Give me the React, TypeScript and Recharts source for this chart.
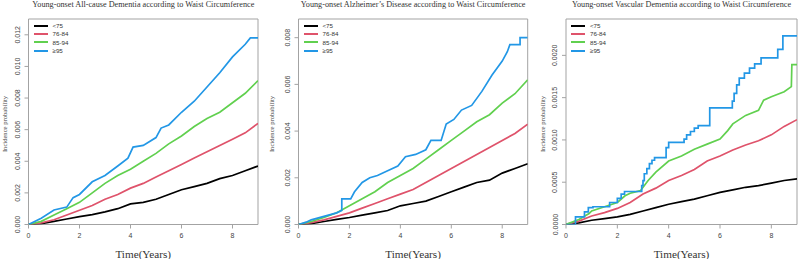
import React from "react";
import { LineChart, Line, XAxis, YAxis, ReferenceArea, Legend } from "recharts";

const years = [0, 0.5, 1, 1.5, 2, 2.5, 3, 3.5, 4, 4.5, 5, 5.5, 6, 6.5, 7, 7.5, 8, 8.5, 9];
const groupNames = ["<75", "76-84", "85-94", "≥95"];
const groupColors = ["#000000", "#DF536B", "#61D04F", "#2297E6"];
const xTicks = [0, 2, 4, 6, 8];

// all-cause dementia
const allLt75 = [0, 0.00005, 0.0002, 0.00035, 0.0005, 0.00062, 0.0008, 0.001, 0.0013, 0.0014, 0.0016, 0.0019, 0.0022, 0.0024, 0.0026, 0.0029, 0.0031, 0.0034, 0.0037];
const all76 = [0, 0.0001, 0.0003, 0.0006, 0.0009, 0.0012, 0.0016, 0.0019, 0.0023, 0.0026, 0.003, 0.0034, 0.0038, 0.0042, 0.0046, 0.005, 0.0054, 0.0058, 0.0064];
const all85 = [0, 0.0002, 0.0006, 0.001, 0.0014, 0.002, 0.0026, 0.0031, 0.0035, 0.004, 0.0045, 0.0051, 0.0056, 0.0062, 0.0067, 0.0071, 0.0077, 0.0083, 0.0091];
const all95Years = [0, 0.5, 1, 1.5, 1.75, 2, 2.5, 3, 3.5, 3.9, 4.1, 4.5, 5, 5.2, 5.5, 6, 6.5, 7, 7.5, 8, 8.5, 8.7, 9];
const all95 = [0, 0.0004, 0.00092, 0.0011, 0.0017, 0.0019, 0.0027, 0.0031, 0.0037, 0.0042, 0.0049, 0.005, 0.0055, 0.0061, 0.0063, 0.0071, 0.0078, 0.0087, 0.0096, 0.0106, 0.0114, 0.0118, 0.0118];
const allTicks = [0, 0.002, 0.004, 0.006, 0.008, 0.01, 0.012];

// alzheimer's disease
const adLt75 = [0, 0.00004, 0.00013, 0.00022, 0.0003, 0.0004, 0.0005, 0.0006, 0.0008, 0.0009, 0.001, 0.0012, 0.0014, 0.0016, 0.0018, 0.0019, 0.0022, 0.0024, 0.0026];
const ad76 = [0, 0.00008, 0.0002, 0.00035, 0.0005, 0.0007, 0.0009, 0.0011, 0.0013, 0.0015, 0.0018, 0.0021, 0.0024, 0.0027, 0.003, 0.0033, 0.0036, 0.0039, 0.0043];
const ad85 = [0, 0.00013, 0.0003, 0.0005, 0.0008, 0.0011, 0.0014, 0.0018, 0.0021, 0.0024, 0.0028, 0.0032, 0.0036, 0.004, 0.0044, 0.0047, 0.0052, 0.0056, 0.0062];
const ad95Years = [0, 0.3, 0.5, 1, 1.5, 1.7, 1.7, 2.05, 2.2, 2.5, 2.8, 3.1, 3.5, 3.9, 4.2, 4.6, 5.0, 5.2, 5.6, 5.8, 6.1, 6.4, 6.8, 7.2, 7.6, 8.0, 8.2, 8.3, 8.7, 8.7, 9];
const ad95 = [0, 0.0001, 0.0002, 0.00035, 0.0005, 0.0006, 0.0011, 0.0011, 0.0014, 0.0018, 0.002, 0.0021, 0.0023, 0.0025, 0.0029, 0.003, 0.0032, 0.0036, 0.0036, 0.0043, 0.0045, 0.0049, 0.0051, 0.0057, 0.0064, 0.007, 0.0074, 0.0077, 0.0077, 0.008, 0.008];
const adTicks = [0, 0.002, 0.004, 0.006, 0.008];

// vascular dementia
const vdLt75 = [0, 0.00002, 0.00005, 0.00007, 0.00009, 0.00012, 0.00016, 0.0002, 0.00024, 0.00027, 0.0003, 0.00034, 0.00038, 0.00041, 0.00044, 0.00046, 0.00049, 0.00052, 0.00054];
const vd76 = [0, 0.00004, 0.0001, 0.00014, 0.00019, 0.00026, 0.00036, 0.00043, 0.00052, 0.00058, 0.00065, 0.00075, 0.00081, 0.00088, 0.00094, 0.00099, 0.00106, 0.00116, 0.00124];
const vd85Years = [0, 0.5, 0.9, 1, 1.5, 2, 2.3, 2.5, 2.9, 3.2, 3.5, 4, 4.5, 5, 5.5, 6, 6.3, 6.5, 7, 7.5, 7.7, 8, 8.5, 8.78, 8.8, 9];
const vd85 = [0, 0.00006, 0.00013, 0.00016, 0.00021, 0.00026, 0.00034, 0.00037, 0.0004, 0.00052, 0.00062, 0.00075, 0.00081, 0.00089, 0.00095, 0.00101, 0.00111, 0.00119, 0.00129, 0.00135, 0.00147, 0.00151, 0.00157, 0.00163, 0.00189, 0.00189];
const vd95Years = [0, 0.37, 0.72, 0.87, 1.05, 1.7, 2.0, 2.15, 2.28, 2.95, 3.0, 3.05, 3.15, 3.25, 3.35, 3.45, 3.9, 4.0, 4.6, 4.7, 4.85, 5.0, 5.15, 5.6, 6.48, 6.55, 6.65, 6.75, 6.95, 7.15, 7.35, 7.6, 8.25, 8.45, 9.0];
const vd95 = [0, 0.00009, 0.00015, 0.0002, 0.00021, 0.00026, 0.00031, 0.00036, 0.00039, 0.00046, 0.00052, 0.0006, 0.00066, 0.00072, 0.00076, 0.00079, 0.00091, 0.00097, 0.00101, 0.00106, 0.0011, 0.00114, 0.00117, 0.00138, 0.00146, 0.00155, 0.00165, 0.00173, 0.00179, 0.00185, 0.0019, 0.00197, 0.00207, 0.00223, 0.00223];
const vdTicks = [0, 0.0005, 0.001, 0.0015, 0.002];

const SANS = "'Liberation Sans', Arial, sans-serif";
const SERIF = "'Liberation Serif', 'Times New Roman', serif";
const FRAME = "#a3a3a3";

const toPoints = (t: number[], v: number[]) => t.map((x, i) => ({ t: x, v: v[i] }));

type Series = { t: number[]; v: number[]; step?: boolean };

const panels = [
  {
    title: "Young-onset All-cause Dementia according to Waist Circumference",
    left: 0, plotLeft: 28.5, plotRight: 258, yLabelX: 6.5,
    yMax: 0.013, ticks: allTicks, digits: 3,
    series: [
      { t: years, v: allLt75 }, { t: years, v: all76 }, { t: years, v: all85 }, { t: all95Years, v: all95 },
    ] as Series[],
  },
  {
    title: "Young-onset Alzheimer\u2019s Disease according to Waist Circumference",
    left: 266, plotLeft: 32.5, plotRight: 261.7, yLabelX: 7.5,
    yMax: 0.0088, ticks: adTicks, digits: 3,
    series: [
      { t: years, v: adLt75 }, { t: years, v: ad76 }, { t: years, v: ad85 }, { t: ad95Years, v: ad95 },
    ] as Series[],
  },
  {
    title: "Young-onset Vascular Dementia according to Waist Circumference",
    left: 532, plotLeft: 34, plotRight: 265, yLabelX: 12.5,
    yMax: 0.00243, ticks: vdTicks, digits: 4,
    series: [
      { t: years, v: vdLt75 }, { t: years, v: vd76 }, { t: vd85Years, v: vd85 }, { t: vd95Years, v: vd95, step: true },
    ] as Series[],
  },
];

const W = 266;
const H = 259;
const PLOT_TOP = 19;
const PLOT_BOTTOM = 224.5;

const YTick = (props: any) => {
  const { x, y, payload, digits } = props;
  return (
    <text x={x} y={y} transform={`rotate(-90, ${x}, ${y})`} textAnchor="middle" fontSize={7} fontFamily={SANS} fill="#444">
      {Number(payload.value).toFixed(digits)}
    </text>
  );
};

const XTick = (props: any) => {
  const { x, y, payload } = props;
  return (
    <text x={x} y={y + 9.5} textAnchor="middle" fontSize={7} fontFamily={SANS} fill="#444">
      {payload.value}
    </text>
  );
};

// legend drawn in the original series order
const LegendBox = () => (
  <div style={{ fontFamily: SANS, fontSize: 6.2, color: "#333" }}>
    {groupNames.map((name, i) => (
      <div key={name} style={{ display: "flex", alignItems: "center", height: 8.3, whiteSpace: "nowrap" }}>
        <span style={{ display: "inline-block", width: 14, height: 2, background: groupColors[i], marginRight: 5 }} />
        {name}
      </div>
    ))}
  </div>
);

export default function App() {
  return (
    <div style={{ position: "absolute", left: 0, top: 0, width: 798, height: 259, background: "#fff" }}>
      {panels.map((p) => {
        const cx = (p.plotLeft + p.plotRight) / 2;
        return (
          <div key={p.title} style={{ position: "absolute", left: p.left, top: 0, width: W, height: H }}>
            <LineChart
              width={W}
              height={H}
              margin={{ top: PLOT_TOP, right: W - p.plotRight, bottom: 0, left: 0 }}
            >
              <XAxis
                type="number"
                dataKey="t"
                domain={[0, 9]}
                ticks={xTicks}
                allowDataOverflow
                height={H - PLOT_BOTTOM}
                axisLine={false}
                tickLine={{ stroke: FRAME }}
                tickSize={4}
                tickMargin={0}
                tick={<XTick />}
              />
              <YAxis
                type="number"
                domain={[0, p.yMax]}
                ticks={p.ticks}
                allowDataOverflow
                width={p.plotLeft}
                axisLine={false}
                tickLine={{ stroke: FRAME }}
                tickSize={4}
                tickMargin={4.5}
                tick={<YTick digits={p.digits} />}
              />
              <ReferenceArea x1={0} x2={9} y1={0} y2={p.yMax} fill="none" stroke={FRAME} strokeWidth={1} />
              {p.series.map((s, i) => (
                <Line
                  key={groupNames[i]}
                  name={groupNames[i]}
                  data={toPoints(s.t, s.v)}
                  dataKey="v"
                  type={s.step ? "stepAfter" : "linear"}
                  stroke={groupColors[i]}
                  strokeWidth={1.7}
                  dot={false}
                  activeDot={false}
                  isAnimationActive={false}
                />
              ))}
              <Legend
                layout="vertical"
                align="center"
                verticalAlign="middle"
                content={<LegendBox />}
                wrapperStyle={{ left: p.plotLeft + 5, top: 21.5, width: 60 }}
              />
            </LineChart>
            <svg width={W} height={H} style={{ position: "absolute", left: 0, top: 0, pointerEvents: "none" }}>
              <text x={cx} y={7} textAnchor="middle" fontSize={8.2} fontFamily={SERIF} fill="#333">
                {p.title}
              </text>
              <text x={cx} y={257.5} textAnchor="middle" fontSize={11.2} fontFamily={SERIF} fill="#333">
                Time(Years)
              </text>
              <text
                x={p.yLabelX}
                y={124}
                transform={`rotate(-90, ${p.yLabelX}, 124)`}
                textAnchor="middle"
                fontSize={6.6}
                fontFamily={SERIF}
                fill="#444"
              >
                Incidence probability
              </text>
            </svg>
          </div>
        );
      })}
    </div>
  );
}
